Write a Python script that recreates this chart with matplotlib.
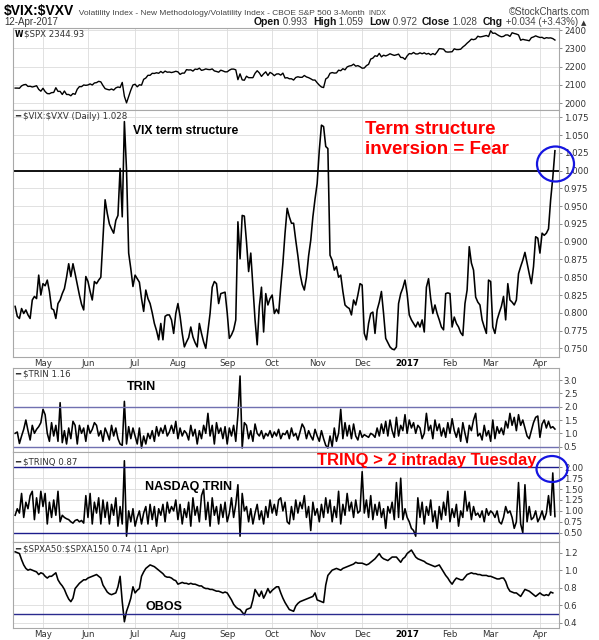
import numpy as np
import pandas as pd
import matplotlib
matplotlib.use('Agg')
import matplotlib.pyplot as plt
from matplotlib.patches import Ellipse

plt.rcParams['text.parse_math'] = False

# ---------------- data ----------------
holidays = ['2016-05-30', '2016-07-04', '2016-09-05', '2016-11-24', '2016-12-26',
            '2017-01-02', '2017-01-16', '2017-02-20']
dates = pd.bdate_range('2016-04-13', '2017-04-12', freq='C', holidays=holidays)

spx = [2082, 2082, 2081, 2094, 2100, 2102, 2091, 2092, 2088, 2091, 2095, 2075, 2065,
       2081, 2063, 2052, 2051, 2057, 2058, 2084, 2064, 2064, 2047, 2066, 2047, 2047, 2040, 2052, 2048, 2076, 2090, 2090, 2099, 2097,
       2099, 2105, 2099, 2110, 2112, 2119, 2116, 2096, 2079, 2075, 2072, 2077, 2071, 2083, 2088, 2085, 2113, 2037, 2001, 2036, 2071, 2099,
       2103, 2089, 2100, 2098, 2130, 2137, 2152, 2152, 2163, 2162, 2166, 2163, 2173, 2165, 2175, 2169, 2170, 2167, 2170, 2174,
       2171, 2157, 2164, 2164, 2183, 2181, 2182, 2175, 2186, 2184, 2191, 2179, 2182, 2187, 2184, 2183, 2187, 2176, 2173, 2169, 2180, 2176, 2171,
       2171, 2180, 2186, 2186, 2182, 2128, 2160, 2127, 2125, 2147, 2139, 2139, 2139, 2163, 2177, 2165, 2146, 2160, 2171, 2151, 2168,
       2161, 2150, 2159, 2160, 2153, 2164, 2137, 2139, 2133, 2133, 2126, 2140, 2144, 2141, 2141, 2151, 2143, 2139, 2133, 2126, 2126,
       2111, 2098, 2088, 2085, 2132, 2140, 2163, 2167, 2164, 2165, 2180, 2177, 2188, 2182, 2198, 2203, 2205, 2213, 2202, 2205, 2199,
       2191, 2192, 2205, 2212, 2241, 2246, 2259, 2256, 2272, 2253, 2262, 2258, 2263, 2270, 2265, 2261, 2264, 2268, 2250, 2249, 2239,
       2258, 2271, 2269, 2277, 2269, 2269, 2275, 2270, 2275, 2268, 2272, 2264, 2271, 2265, 2280, 2298, 2297, 2295, 2281, 2279,
       2280, 2281, 2297, 2293, 2293, 2295, 2307, 2316, 2328, 2338, 2350, 2347, 2351, 2366, 2362, 2364, 2367, 2370, 2364,
       2396, 2382, 2383, 2375, 2368, 2363, 2365, 2373, 2373, 2365, 2385, 2381, 2378, 2373, 2344, 2349, 2346, 2344, 2341, 2358, 2362, 2368, 2363,
       2359, 2360, 2353, 2358, 2356, 2357, 2353, 2345]

vix_vxv = [0.809, 0.795, 0.792, 0.806, 0.799, 0.804, 0.797, 0.792, 0.818, 0.823,
           0.820, 0.853, 0.825, 0.841, 0.838, 0.846, 0.830, 0.806, 0.804, 0.792,
           0.813, 0.818, 0.827, 0.834, 0.850, 0.869, 0.851, 0.869, 0.855, 0.840,
           0.825, 0.812, 0.804, 0.851, 0.844, 0.830, 0.818, 0.844, 0.841, 0.846,
           0.850, 0.905, 0.959, 0.940, 0.925, 0.918, 0.912, 0.930, 0.937, 1.003,
           0.935, 1.069, 1.001, 0.884, 0.862, 0.837, 0.853, 0.848, 0.843, 0.820,
           0.802, 0.832, 0.820, 0.813, 0.800, 0.785, 0.775, 0.762, 0.785, 0.762,
           0.795, 0.797, 0.797, 0.790, 0.771, 0.799, 0.813, 0.795, 0.771, 0.752,
           0.759, 0.765, 0.780, 0.766, 0.758, 0.752, 0.785, 0.771, 0.759, 0.750,
           0.775, 0.799, 0.836, 0.844, 0.841, 0.813, 0.827, 0.828, 0.829, 0.800,
           0.764, 0.769, 0.776, 0.790, 0.928, 0.876, 0.937, 0.936, 0.900, 0.858,
           0.884, 0.837, 0.790, 0.755, 0.809, 0.836, 0.773, 0.827, 0.811, 0.820,
           0.825, 0.799, 0.805, 0.799, 0.836, 0.870, 0.912, 0.947, 0.935, 0.926,
           0.926, 0.902, 0.880, 0.855, 0.840, 0.832, 0.850, 0.880, 0.902, 0.935,
           0.960, 0.982, 1.029, 1.064, 1.062, 1.034, 1.031, 0.881, 0.874, 0.860,
           0.865, 0.850, 0.853, 0.830, 0.811, 0.808, 0.806, 0.797, 0.818, 0.811,
           0.825, 0.841, 0.839, 0.771, 0.762, 0.785, 0.799, 0.801, 0.771, 0.804,
           0.815, 0.830, 0.799, 0.764, 0.758, 0.752, 0.749, 0.748, 0.752, 0.813,
           0.827, 0.835, 0.846, 0.827, 0.797, 0.790, 0.785, 0.780, 0.787, 0.780,
           0.790, 0.773, 0.836, 0.848, 0.820, 0.799, 0.811, 0.799, 0.790, 0.780,
           0.776, 0.827, 0.828, 0.827, 0.780, 0.794, 0.785, 0.780, 0.772, 0.768,
           0.813, 0.832, 0.893, 0.870, 0.860, 0.822, 0.815, 0.811, 0.790, 0.780,
           0.771, 0.846, 0.844, 0.780, 0.771, 0.790, 0.800, 0.809, 0.823, 0.790,
           0.841, 0.818, 0.815, 0.811, 0.818, 0.855, 0.865, 0.874, 0.885, 0.870,
           0.855, 0.841, 0.865, 0.907, 0.905, 0.884, 0.912, 0.909, 0.912, 0.918,
           0.959, 0.990, 1.028]

trin = [1.00, 1.05, 0.62, 0.90, 1.15, 1.50, 1.10, 0.75, 1.30, 1.00,
        1.15, 1.25, 1.40, 1.90, 1.70, 1.00, 0.70, 1.40, 0.90, 1.30,
        0.70, 2.15, 0.65, 1.10, 0.60, 1.20, 0.80, 1.45, 1.30, 0.60,
        1.30, 1.00, 1.20, 0.70, 1.30, 1.00, 1.15, 1.40, 1.30, 0.90,
        1.10, 0.70, 1.20, 1.00, 0.75, 1.30, 0.90, 1.20, 0.80, 0.60,
        0.55, 2.20, 0.60, 1.25, 0.80, 1.20, 0.90, 0.60, 1.20, 0.45,
        0.90, 0.60, 1.00, 0.80, 1.10, 0.70, 1.25, 0.90, 1.20, 1.00,
        1.30, 0.90, 1.05, 1.30, 1.00, 1.45, 0.80, 1.20, 0.90, 1.10,
        1.00, 0.75, 1.30, 0.90, 1.15, 0.60, 1.10, 0.80, 1.30, 1.00,
        1.75, 0.90, 1.30, 0.60, 1.40, 1.00, 1.20, 0.80, 1.25, 0.60,
        1.20, 0.90, 1.30, 0.70, 1.70, 3.15, 0.45, 1.40, 1.30, 0.80,
        1.10, 0.70, 1.35, 1.00, 0.90, 1.10, 0.80, 1.00, 0.90, 1.10,
        0.85, 1.05, 0.90, 1.15, 0.80, 1.00, 0.95, 1.10, 0.80, 1.20,
        0.90, 1.00, 0.75, 1.05, 1.35, 1.20, 0.80, 1.10, 0.90, 0.75,
        1.15, 0.90, 0.70, 1.10, 0.80, 0.55, 0.45, 0.90, 0.50, 1.20,
        0.70, 1.00, 1.90, 0.80, 1.40, 0.90, 1.30, 0.80, 1.35, 0.90,
        0.75, 1.10, 0.85, 0.95, 0.90, 0.85, 1.00, 0.95, 0.85, 1.20,
        0.90, 1.35, 1.00, 1.45, 0.90, 1.50, 1.10, 0.85, 1.60, 0.90,
        1.30, 1.10, 1.70, 1.00, 1.50, 1.20, 1.40, 1.00, 1.30, 1.20,
        0.80, 1.00, 1.75, 1.10, 1.30, 0.80, 1.50, 1.10, 1.35, 0.90,
        1.20, 0.85, 1.40, 1.00, 1.55, 1.10, 0.85, 1.20, 0.70, 1.40,
        1.00, 0.65, 1.30, 1.10, 1.50, 1.75, 0.90, 1.00, 0.75, 1.30,
        0.90, 1.10, 0.70, 1.50, 0.80, 1.25, 1.00, 1.20, 0.95, 1.45,
        1.20, 1.75, 1.30, 1.60, 1.10, 1.70, 1.30, 1.50, 1.20, 0.90,
        0.80, 1.10, 1.40, 1.60, 1.65, 0.85, 1.35, 1.50, 1.20, 1.45,
        1.20, 1.25, 1.16]

trinq = [0.90, 1.05, 0.95, 1.40, 0.85, 1.20, 1.05, 1.35, 1.45, 0.80,
         1.30, 0.95, 1.45, 1.10, 1.40, 0.70, 1.20, 0.85, 1.25, 0.90,
         1.45, 0.75, 0.90, 0.85, 0.82, 0.80, 0.75, 0.72, 0.78, 0.80,
         0.75, 0.78, 0.72, 1.35, 0.85, 1.40, 0.70, 1.20, 0.95, 1.30,
         0.70, 1.25, 0.85, 1.20, 0.70, 1.15, 0.90, 1.30, 0.65, 1.10,
         0.70, 2.15, 0.42, 1.00, 0.75, 1.05, 0.65, 0.85, 1.00, 0.70,
         0.95, 1.10, 0.70, 1.15, 0.80, 1.10, 0.65, 1.05, 0.90, 1.15,
         0.75, 1.20, 0.95, 1.10, 1.00, 1.25, 0.80, 1.15, 0.70, 1.05,
         0.85, 1.20, 0.65, 1.30, 0.90, 1.10, 0.75, 1.35, 1.50, 0.80,
         1.20, 0.65, 1.30, 0.90, 1.10, 0.70, 1.15, 0.85, 1.20, 0.75,
         0.95, 1.30, 0.85, 1.15, 1.60, 0.42, 1.40, 1.00, 1.10, 0.75,
         1.05, 0.70, 0.95, 1.15, 0.80, 1.00, 0.70, 1.10, 0.85, 1.25,
         0.95, 1.15, 0.90, 1.25, 1.30, 1.00, 1.20, 0.75, 0.70, 1.10,
         0.80, 1.25, 0.95, 1.20, 1.05, 1.35, 0.85, 1.10, 0.55, 1.20,
         0.90, 1.05, 0.75, 1.15, 0.85, 1.30, 0.95, 1.25, 0.75, 1.10,
         0.85, 1.45, 0.70, 1.15, 0.90, 1.40, 1.00, 1.20, 0.85, 1.25,
         0.95, 1.00, 1.90, 0.95, 1.25, 0.85, 1.35, 0.80, 1.15, 0.90,
         1.20, 0.85, 1.05, 0.60, 1.10, 0.95, 1.20, 0.80, 1.65, 0.85,
         1.75, 0.80, 1.05, 0.85, 0.75, 0.60, 0.55, 0.42, 1.30, 0.85,
         1.20, 0.70, 1.10, 0.90, 1.25, 0.75, 1.00, 0.60, 1.10, 0.80,
         1.20, 0.90, 1.45, 0.75, 1.05, 0.85, 1.15, 0.65, 1.00, 0.85,
         1.45, 1.00, 1.20, 0.80, 1.10, 0.90, 0.95, 0.85, 1.00, 0.75,
         1.05, 0.90, 1.00, 0.95, 0.85, 1.00, 0.75, 0.70, 0.85, 1.10,
         0.95, 1.00, 0.85, 0.60, 0.75, 1.65, 0.70, 0.50, 1.60, 0.75,
         1.10, 0.80, 0.85, 1.00, 0.75, 0.85, 1.00, 0.80, 0.95, 1.35,
         0.90, 1.87, 0.87]

obos = [1.21, 1.20, 1.19, 1.12, 1.06, 1.02, 1.00, 1.01, 1.00, 0.99,
        0.98, 0.95, 0.97, 0.96, 0.93, 0.91, 0.93, 0.93, 0.95, 0.97,
        0.89, 0.85, 0.82, 0.78, 0.72, 0.67, 0.64, 0.68, 0.79, 0.82,
        0.85, 0.87, 0.89, 0.89, 0.91, 0.92, 0.93, 0.94, 0.95, 0.93,
        0.91, 0.83, 0.79, 0.75, 0.73, 0.72, 0.73, 0.74, 0.81, 0.93,
        0.64, 0.41, 0.53, 0.60, 0.68, 0.81, 0.74, 0.77, 0.79, 0.93,
        0.98, 1.02, 1.04, 1.06, 1.05, 1.04, 1.02, 1.00, 0.98, 0.96,
        0.93, 0.92, 0.92, 0.91, 0.89, 0.88, 0.84, 0.85, 0.86, 0.85,
        0.85, 0.84, 0.85, 0.84, 0.84, 0.83, 0.82, 0.82, 0.80, 0.79,
        0.79, 0.78, 0.78, 0.77, 0.76, 0.76, 0.75, 0.74, 0.75, 0.74,
        0.70, 0.66, 0.61, 0.58, 0.56, 0.55, 0.52, 0.49, 0.55, 0.56,
        0.57, 0.66, 0.78, 0.74, 0.70, 0.76, 0.68, 0.73, 0.79, 0.74,
        0.77, 0.79, 0.81, 0.81, 0.74, 0.68, 0.63, 0.59, 0.55, 0.54,
        0.53, 0.59, 0.62, 0.64, 0.65, 0.66, 0.67, 0.68, 0.69, 0.70,
        0.74, 0.66, 0.65, 0.64, 0.63, 0.83, 0.94, 0.97, 1.00, 1.01,
        1.02, 1.01, 1.00, 1.02, 1.03, 1.04, 1.05, 1.06, 1.07, 1.09,
        1.08, 1.08, 1.08, 1.07, 1.06, 1.07, 1.09, 1.11, 1.13, 1.16,
        1.19, 1.15, 1.13, 1.12, 1.11, 1.13, 1.15, 1.15, 1.15, 1.12,
        1.09, 1.13, 1.15, 1.19, 1.21, 1.23, 1.19, 1.15, 1.13, 1.12,
        1.11, 1.10, 1.08, 1.07, 1.06, 1.05, 1.04, 1.05, 1.06, 1.02,
        0.98, 0.94, 0.91, 0.87, 0.84, 0.88, 0.91, 0.90, 0.89, 0.89,
        0.92, 0.95, 0.96, 0.97, 0.96, 0.96, 0.95, 0.95, 0.94, 0.94,
        0.94, 0.93, 0.93, 0.92, 0.91, 0.90, 0.90, 0.91, 0.91, 0.87,
        0.80, 0.76, 0.75, 0.74, 0.74, 0.72, 0.70, 0.74, 0.78, 0.77,
        0.76, 0.74, 0.72, 0.70, 0.72, 0.74, 0.72, 0.71, 0.72, 0.71,
        0.75, 0.74]

month_names = ['Jan', 'Feb', 'Mar', 'Apr', 'May', 'Jun', 'Jul', 'Aug', 'Sep', 'Oct', 'Nov', 'Dec']

# ---------------- layout ----------------
W, H = 599, 640
fig = plt.figure(figsize=(W / 100, H / 100), dpi=100)
fig.patch.set_facecolor('white')

def rect(x0, y0, x1, y1):
    return [x0 / W, 1 - y1 / H, (x1 - x0) / W, (y1 - y0) / H]

def fx(x):
    return x / W

def fy(y):
    return 1 - y / H

idx = np.arange(len(dates))
month_idx = [i for i in range(1, len(dates)) if dates[i].month != dates[i - 1].month]
month_lab = [str(dates[i].year) if dates[i].month == 1 else month_names[dates[i].month - 1] for i in month_idx]
XL = (-1.0, 253.9)

SMALL = dict(family='DejaVu Sans', size=6.2, color='#333333')
BOLDA = dict(family=['Liberation Sans', 'DejaVu Sans'], weight='bold')

def style(ax, ylim, ticks, fmt, xlabels=False):
    ax.set_xlim(*XL)
    ax.set_ylim(*ylim)
    ax.set_yticks(ticks)
    ax.set_yticklabels([fmt % t for t in ticks])
    ax.yaxis.tick_right()
    ax.tick_params(axis='y', length=2, width=0.6, pad=1.5, labelsize=6.2,
                   colors='#777777', labelcolor='#333333')
    ax.set_xticks(month_idx)
    if xlabels:
        ax.set_xticklabels(month_lab)
        ax.tick_params(axis='x', length=0, pad=1.5, labelsize=6.2, labelcolor='#333333')
        for lab in ax.get_xticklabels():
            if lab.get_text() == '2017':
                lab.set_fontweight('bold')
                lab.set_color('#000000')
    else:
        ax.tick_params(axis='x', length=0, labelbottom=False)
    ax.grid(True, color='#dcdcdc', lw=0.6)
    ax.set_axisbelow(True)
    for s in ax.spines.values():
        s.set_color('#a8a8a8')
        s.set_linewidth(0.8)

LW = 1.15

# SPX panel
ax1 = fig.add_axes(rect(13, 28, 559, 110))
ax1.plot(idx[:len(spx)], spx, color='black', lw=1.0)
style(ax1, (1962, 2411), [2000, 2100, 2200, 2300, 2400], '%d')

# VIX:VXV panel
ax2 = fig.add_axes(rect(13, 110, 559, 357))
ax2.plot(idx[:len(vix_vxv)], vix_vxv, color='black', lw=LW)
ax2.axhline(1.0, color='black', lw=1.3)
style(ax2, (0.7378, 1.0853), np.round(np.arange(0.75, 1.0751, 0.025), 3), '%.3f', xlabels=True)

# TRIN panel
ax3 = fig.add_axes(rect(13, 368, 559, 452))
ax3.plot(idx[:len(trin)], trin, color='black', lw=LW)
for v in (2.0, 0.5):
    ax3.axhline(v, color='#7070b0', lw=1.0)
style(ax3, (0.30, 3.45), [0.5, 1.0, 1.5, 2.0, 2.5, 3.0], '%.1f')

# TRINQ panel
ax4 = fig.add_axes(rect(13, 452, 559, 542))
ax4.plot(idx[:len(trinq)], trinq, color='black', lw=LW)
for v in (2.0, 0.5):
    ax4.axhline(v, color='#1c1c8c', lw=1.0)
style(ax4, (0.287, 2.35), [0.5, 0.75, 1.0, 1.25, 1.5, 1.75, 2.0], '%.2f')

# OBOS panel
ax5 = fig.add_axes(rect(13, 542, 559, 628))
ax5.plot(idx[:len(obos)], obos, color='black', lw=LW)
ax5.axhline(0.5, color='#2a2a8e', lw=1.0)
style(ax5, (0.339, 1.322), [0.4, 0.6, 0.8, 1.0, 1.2], '%.1f', xlabels=True)

# ---------------- header ----------------
renderer = fig.canvas.get_renderer()

def chain(x, y, parts, right=None):
    texts = [fig.text(0, fy(y), s, va='baseline', ha='left', **kw) for s, kw in parts]
    widths = [t.get_window_extent(renderer).width for t in texts]
    if right is not None:
        x = right - sum(widths)
    for t, w in zip(texts, widths):
        t.set_x(fx(x))
        x += w
    return texts

LIB = ['Liberation Sans', 'DejaVu Sans']
chain(4, 15, [('$VIX:$VXV', dict(family=LIB, weight='bold', size=10, color='black')),
              ('  Volatility Index - New Methodology/Volatility Index - CBOE S&P 500 3-Month', dict(family=LIB, size=6.0, color='#444444')),
              ('  INDX', dict(family=LIB, size=5.0, color='#444444'))])
fig.text(fx(590), fy(15), '\u00a9StockCharts.com', ha='right', va='baseline', family=LIB, size=7, color='#444444')
fig.text(fx(4), fy(25), '12-Apr-2017', ha='left', va='baseline', family=LIB, size=7, color='#333333')

bl = dict(family=LIB, weight='bold', size=7.5, color='#111111')
nl = dict(family=LIB, size=7, color='#444444')
chain(0, 25, [('Open', bl), (' 0.993  ', nl), ('High', bl), (' 1.059  ', nl), ('Low', bl),
              (' 0.972  ', nl), ('Close', bl), (' 1.028  ', nl), ('Chg', bl),
              (' +0.034 (+3.43%) ', nl), ('\u25b2', dict(family='DejaVu Sans', size=5, color='#333333'))],
      right=586)

# ---------------- panel legends ----------------
fig.text(fx(15), fy(37), 'W', family='DejaVu Sans', weight='bold', size=5.5, color='black', va='baseline')
fig.text(fx(24), fy(37), '$SPX 2344.93', va='baseline', **SMALL)
leg = [(119, '\u2501 $VIX:$VXV (Daily) 1.028'), (377, '\u2501 $TRIN 1.16'),
       (464, '\u2501 $TRINQ 0.87'), (552, '\u2501 $SPXA50:$SPXA150 0.74 (11 Apr)')]
for y, s in leg:
    fig.text(fx(15), fy(y), s, va='baseline', **SMALL)

# ---------------- annotations ----------------
fig.text(fx(133), fy(134.5), 'VIX term structure', va='baseline', ha='left', size=8.7, color='black', **BOLDA)
fig.text(fx(365), fy(133.5), 'Term structure', va='baseline', ha='left', size=13.5, color='#ff0000', **BOLDA)
fig.text(fx(365), fy(153.5), 'inversion = Fear', va='baseline', ha='left', size=13.5, color='#ff0000', **BOLDA)
fig.text(fx(127), fy(390), 'TRIN', va='baseline', ha='left', size=9, color='black', **BOLDA)
fig.text(fx(145), fy(490), 'NASDAQ TRIN', va='baseline', ha='left', size=9, color='black', **BOLDA)
fig.text(fx(317), fy(465), 'TRINQ > 2 intraday Tuesday', va='baseline', ha='left', size=12, color='#ff0000', **BOLDA)
fig.text(fx(145), fy(610), 'OBOS', va='baseline', ha='left', size=9, color='black', **BOLDA)

for cx, cy, w, h in [(555.5, 164, 37, 35), (552, 469, 31, 26)]:
    e = Ellipse((fx(cx), fy(cy)), w / W, h / H, transform=fig.transFigure,
                fill=False, ec='#1515e0', lw=1.6, clip_on=False)
    fig.add_artist(e)

fig.savefig('out.png', dpi=100, facecolor='white')
